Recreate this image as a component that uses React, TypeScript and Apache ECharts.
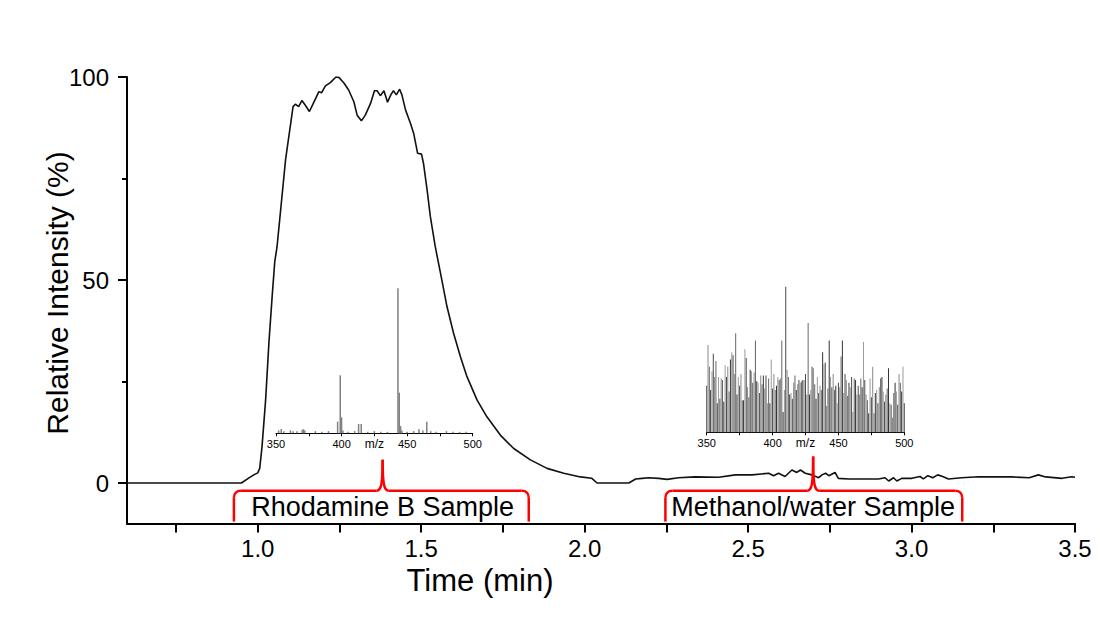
import React, { useEffect, useRef } from 'react';
import * as echarts from 'echarts';

// ---- Main chromatogram ----
const timeMin = [
  0.6, 0.95, 0.972, 0.988, 1.0, 1.006, 1.013, 1.024, 1.034, 1.044,
  1.052, 1.059, 1.069, 1.085, 1.095, 1.108, 1.115, 1.125, 1.135, 1.145,
  1.158, 1.171, 1.187, 1.195, 1.207, 1.222, 1.239, 1.248, 1.263, 1.278,
  1.294, 1.304, 1.317, 1.329, 1.345, 1.357, 1.365, 1.375, 1.386, 1.397,
  1.407, 1.415, 1.424, 1.434, 1.441, 1.452, 1.467, 1.477, 1.489, 1.501,
  1.507, 1.518, 1.528, 1.543, 1.559, 1.579, 1.599, 1.62, 1.64, 1.671,
  1.701, 1.742, 1.783, 1.834, 1.885, 1.936, 1.987, 2.022, 2.038, 2.135,
  2.156, 2.176, 2.196, 2.226, 2.252, 2.287, 2.338, 2.41, 2.461, 2.512,
  2.563, 2.578, 2.593, 2.613, 2.634, 2.649, 2.66, 2.675, 2.695, 2.716,
  2.726, 2.737, 2.747, 2.766, 2.776, 2.808, 2.899, 2.919, 2.93, 2.945,
  2.955, 2.97, 3.001, 3.026, 3.036, 3.05, 3.065, 3.08, 3.095, 3.113,
  3.153, 3.205, 3.307, 3.36, 3.388, 3.41, 3.46, 3.49, 3.5,
];
const relIntensity = [
  0, 0, 1.2, 2.0, 2.5, 3.6, 8.9, 20.4, 34.4, 45.9,
  54.5, 58.2, 66.4, 79.6, 85.3, 92.7, 93.3, 92.7, 94.2, 93.1,
  91.5, 93.7, 96.4, 96.1, 97.8, 98.6, 100, 99.9, 98.6, 96.8,
  93.9, 90.6, 89.2, 90.6, 93.5, 96.6, 96.6, 95.4, 96.6, 93.8,
  95.6, 96.6, 95.6, 97.0, 95.6, 91.9, 88.6, 86.1, 81.2, 81.0,
  78.7, 72.2, 65.6, 58.2, 51.7, 43.4, 36.9, 31.1, 26.2, 20.4,
  16.3, 11.8, 8.5, 5.7, 3.6, 2.4, 1.5, 1.15, 0, 0,
  1.0, 1.15, 1.3, 1.15, 0.9, 1.3, 1.5, 1.4, 2.0, 2.0,
  2.4, 1.8, 2.4, 1.6, 3.2, 2.6, 3.2, 2.4, 2.0, 1.3,
  2.0, 2.4, 1.8, 2.6, 1.15, 1.0, 1.0, 1.3, 0.5, 1.3,
  0.5, 1.15, 1.15, 1.6, 1.0, 1.8, 1.3, 2.0, 1.6, 1.0,
  1.3, 1.55, 1.5, 1.3, 2.0, 1.5, 1.15, 1.55, 1.4,
];
const xTickValues = [0.75, 1, 1.25, 1.5, 1.75, 2, 2.25, 2.5, 2.75, 3, 3.25, 3.5];
const xLabelValues = [1, 1.5, 2, 2.5, 3, 3.5];
const yMajorValues = [0, 50, 100];
const yMinorValues = [25, 75];

// ---- Inset: Rhodamine B mass spectrum ----
const rhodMz = [352, 354, 356, 361, 363, 366, 370, 371, 372, 380, 385, 390, 397, 399, 400, 401, 405, 410, 413, 415, 420, 425, 430, 435, 443, 444, 445, 446, 450, 455, 459, 462, 465, 468, 472, 480, 485, 490, 495];
const rhodInt = [2, 3, 1.5, 2, 1.5, 1.5, 2.5, 2.8, 2, 1.5, 1, 1.5, 8, 40, 11, 2, 1, 1.5, 6.4, 6.4, 1, 1.5, 1, 1, 100, 28, 5, 2, 1, 1.5, 2.8, 2, 8, 1.5, 1, 1.5, 1, 1, 1];

// ---- Inset: methanol/water mass spectrum (m/z 350 ... 500, step 1) ----
const methMzStart = 350;
const methInt = [
  32, 60, 45, 29, 42, 54, 38, 49, 20, 38,
  23, 37, 36, 21, 46, 38, 45, 28, 50, 55,
  53, 40, 68, 26, 38, 32, 40, 22, 22, 57,
  51, 31, 24, 43, 42, 34, 41, 63, 35, 34,
  27, 39, 33, 39, 30, 39, 20, 37, 20, 50,
  30, 40, 29, 32, 38, 36, 37, 63, 14, 29,
  100, 43, 38, 26, 27, 23, 34, 39, 29, 33,
  36, 34, 35, 36, 36, 40, 26, 75, 26, 29,
  45, 44, 33, 23, 38, 27, 32, 29, 55, 47,
  48, 18, 30, 63, 38, 31, 40, 29, 32, 20,
  34, 31, 52, 63, 27, 40, 36, 25, 34, 31,
  38, 14, 37, 36, 26, 32, 26, 37, 31, 62,
  36, 26, 22, 13, 37, 24, 45, 13, 27, 29,
  20, 31, 37, 38, 28, 21, 26, 30, 44, 20,
  19, 10, 27, 34, 28, 19, 40, 34, 28, 45,
  20,
];
const insetTicks = [350, 375, 400, 425, 450, 475, 500];
const insetLabels = [350, 400, 450, 500];

// ---- Red brackets (data units of main chart) ----
const bracketLabels = ['Rhodamine B Sample', 'Methanol/water Sample'];
const bracketStart = [0.927, 2.247];
const bracketEnd = [1.829, 3.155];
const bracketPeakTime = [1.382, 2.699];
const bracketPeakHeight = [5.7, 6.5];

const FONT = '"Liberation Sans", Arial, Helvetica, sans-serif';

export default function App() {
  const ref = useRef<HTMLDivElement>(null);

  useEffect(() => {
    const chart = echarts.init(ref.current!, null, { renderer: 'svg' });

    const insetX = (gridIndex: number) => ({
      type: 'value',
      gridIndex,
      min: 350,
      max: 500,
      name: 'm/z',
      nameLocation: 'middle',
      nameGap: 5,
      nameMoveOverlap: false,
      nameTextStyle: { fontSize: 12, color: '#000', fontFamily: FONT, verticalAlign: 'top' },
      axisLine: { show: true, onZero: false, lineStyle: { color: '#000', width: 1 } },
      axisTick: { show: true, inside: false, length: 3, customValues: insetTicks, lineStyle: { color: '#000', width: 1 } },
      axisLabel: { show: true, customValues: insetLabels, fontSize: 11, margin: 5, color: '#000', fontFamily: FONT },
      splitLine: { show: false },
    });

    const option: any = {
      animation: false,
      backgroundColor: '#fff',
      grid: [
        { left: 127, right: 25, top: 77, bottom: 97.4, outerBoundsMode: 'none' },
        { left: 276, right: 627.3, top: 288.3, bottom: 187.7, outerBoundsMode: 'none' },
        { left: 706.7, right: 195.7, top: 286.7, bottom: 188.7, outerBoundsMode: 'none' },
      ],
      xAxis: [
        {
          type: 'value',
          gridIndex: 0,
          min: 0.6,
          max: 3.5,
          axisLine: { show: true, onZero: false, lineStyle: { color: '#000', width: 2 } },
          axisTick: { show: true, inside: false, length: 9, customValues: xTickValues, lineStyle: { color: '#000', width: 2 } },
          axisLabel: {
            show: true,
            customValues: xLabelValues,
            formatter: (v: number) => v.toFixed(1),
            fontSize: 24,
            margin: 13,
            color: '#000',
            fontFamily: FONT,
          },
          splitLine: { show: false },
        },
        insetX(1),
        insetX(2),
      ],
      yAxis: [
        {
          type: 'value',
          gridIndex: 0,
          min: -10,
          max: 100,
          position: 'left',
          axisLine: { show: true, onZero: false, lineStyle: { color: '#000', width: 2 } },
          axisTick: { show: true, inside: false, length: 9, customValues: yMajorValues, lineStyle: { color: '#000', width: 2 } },
          axisLabel: { show: true, customValues: yMajorValues, fontSize: 24, margin: 18, color: '#000', fontFamily: FONT },
          splitLine: { show: false },
        },
        {
          type: 'value',
          gridIndex: 0,
          min: -10,
          max: 100,
          position: 'left',
          offset: 0,
          axisLine: { show: false, onZero: false },
          axisTick: { show: true, inside: false, length: 5, customValues: yMinorValues, lineStyle: { color: '#000', width: 2 } },
          axisLabel: { show: false },
          splitLine: { show: false },
        },
        { type: 'value', gridIndex: 1, min: 0, max: 100, show: false, splitLine: { show: false } },
        { type: 'value', gridIndex: 2, min: 0, max: 100, show: false, splitLine: { show: false } },
      ],
      series: [
        {
          type: 'line',
          xAxisIndex: 0,
          yAxisIndex: 0,
          data: timeMin.map((t, i) => [t, relIntensity[i]]),
          symbol: 'none',
          showSymbol: false,
          lineStyle: { color: '#111', width: 1.6 },
          z: 3,
        },
        {
          type: 'bar',
          xAxisIndex: 1,
          yAxisIndex: 2,
          data: rhodMz.map((m, i) => [m, rhodInt[i]]),
          barWidth: 1.5,
          itemStyle: { color: '#808080' },
          z: 4,
        },
        {
          type: 'bar',
          xAxisIndex: 2,
          yAxisIndex: 3,
          data: methInt.map((v, i) => [methMzStart + i, v]),
          barWidth: 1,
          itemStyle: {
            color: (p: any) => ['#4a4a4a', '#8a8a8a', '#666666', '#333333', '#9a9a9a'][p.dataIndex % 5],
          },
          z: 4,
        },
      ],
      graphic: [],
    };

    chart.setOption(option);

    const P = (t: number, y: number) =>
      chart.convertToPixel({ xAxisIndex: 0, yAxisIndex: 0 } as any, [t, y]) as number[];

    const red = { stroke: '#ff0000', lineWidth: 2.5, fill: null as any };
    const elements: any[] = [];
    bracketLabels.forEach((label, i) => {
      const xl = P(bracketStart[i], 0)[0];
      const xr = P(bracketEnd[i], 0)[0];
      const xp = P(bracketPeakTime[i], 0)[0];
      const yb = P(1, -9.5)[1];
      const yt = P(1, -1.9)[1];
      const ypk = P(1, bracketPeakHeight[i])[1];
      const ylab = P(1, -5.9)[1];
      const r = 7;
      const cw = 6;
      const z = 100;
      elements.push(
        { type: 'line', z, shape: { x1: xl, y1: yb, x2: xl, y2: yt + r }, style: red },
        { type: 'bezierCurve', z, shape: { x1: xl, y1: yt + r, cpx1: xl, cpy1: yt + r * 0.4, cpx2: xl + r * 0.4, cpy2: yt, x2: xl + r, y2: yt }, style: red },
        { type: 'line', z, shape: { x1: xl + r, y1: yt, x2: xp - cw, y2: yt }, style: red },
        { type: 'bezierCurve', z, shape: { x1: xp - cw, y1: yt, cpx1: xp - 1.5, cpy1: yt, cpx2: xp, cpy2: yt - 6, x2: xp, y2: ypk }, style: red },
        { type: 'bezierCurve', z, shape: { x1: xp, y1: ypk, cpx1: xp, cpy1: yt - 6, cpx2: xp + 1.5, cpy2: yt, x2: xp + cw, y2: yt }, style: red },
        { type: 'line', z, shape: { x1: xp + cw, y1: yt, x2: xr - r, y2: yt }, style: red },
        { type: 'bezierCurve', z, shape: { x1: xr - r, y1: yt, cpx1: xr - r * 0.4, cpy1: yt, cpx2: xr, cpy2: yt + r * 0.4, x2: xr, y2: yt + r }, style: red },
        { type: 'line', z, shape: { x1: xr, y1: yt + r, x2: xr, y2: yb }, style: red },
        {
          type: 'text',
          z,
          x: xp,
          y: ylab,
          style: { text: label, fontSize: 27, fontFamily: FONT, fill: '#000', align: 'center', verticalAlign: 'middle' },
        }
      );
    });

    elements.push(
      {
        type: 'text',
        z: 100,
        x: 480,
        y: 580,
        style: { text: 'Time (min)', fontSize: 31, fontFamily: FONT, fill: '#000', align: 'center', verticalAlign: 'middle' },
      },
      {
        type: 'text',
        z: 100,
        x: 57,
        y: 293,
        rotation: Math.PI / 2,
        style: { text: 'Relative Intensity (%)', fontSize: 30, fontFamily: FONT, fill: '#000', align: 'center', verticalAlign: 'middle' },
      }
    );

    chart.setOption({ graphic: elements });

    return () => chart.dispose();
  }, []);

  return (
    <div
      ref={ref}
      style={{ position: 'fixed', left: 0, top: 0, width: 1100, height: 621, background: '#fff' }}
    />
  );
}
